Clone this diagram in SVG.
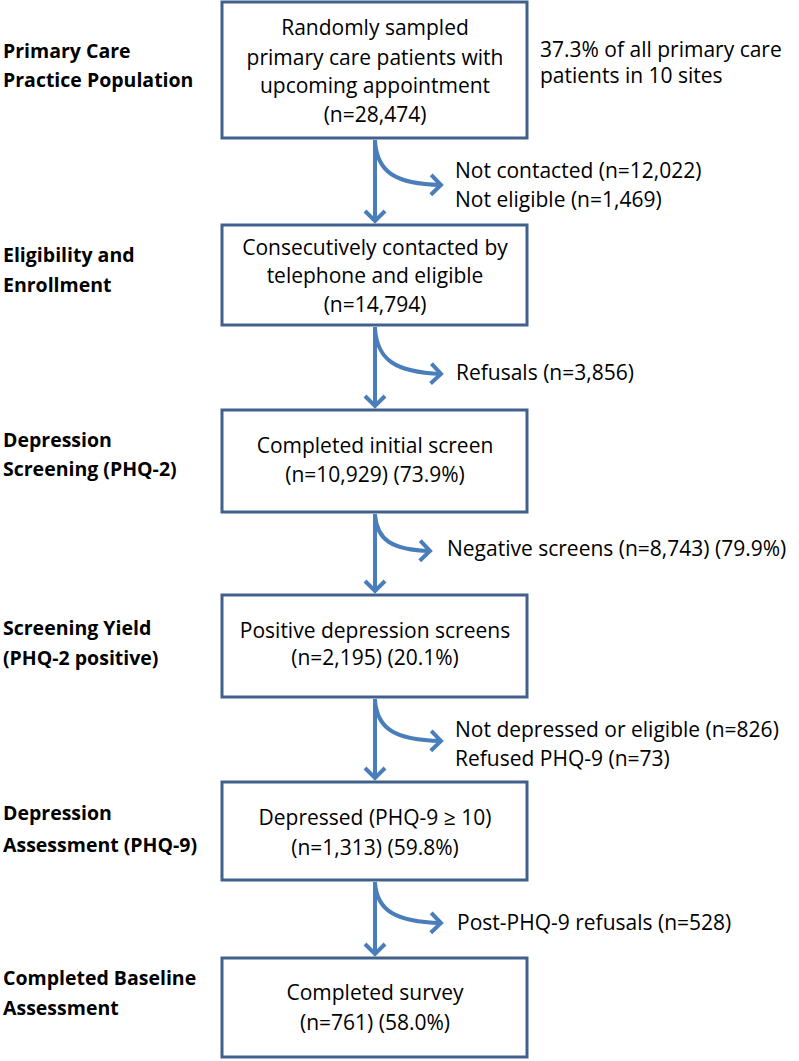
<svg xmlns="http://www.w3.org/2000/svg" width="799" height="1061" viewBox="0 0 799 1061">
<style>
.box{fill:#ffffff;stroke:#41618c;stroke-width:3}
.t{font-family:"Open Sans","Liberation Sans",sans-serif;font-size:21px;fill:#000}
.c{text-anchor:middle}
.lbl{font-family:"Open Sans","Liberation Sans",sans-serif;font-size:19.5px;font-weight:bold;fill:#000}
.arr{fill:none;stroke:#4a7ebb;stroke-width:4}
</style>
<defs>
<marker id="ah" markerUnits="userSpaceOnUse" markerWidth="26" markerHeight="26" viewBox="0 0 26 26" refX="13" refY="13" orient="auto">
<path d="M3,3 L13,13 L3,23" fill="none" stroke="#4a7ebb" stroke-width="4"/>
</marker>
</defs>
<rect width="799" height="1061" fill="#ffffff"/>
<g id="labels">
<text class="lbl" x="3" y="58">Primary Care</text>
<text class="lbl" x="3" y="87">Practice Population</text>
<text class="lbl" x="3" y="262">Eligibility and</text>
<text class="lbl" x="3" y="292">Enrollment</text>
<text class="lbl" x="3" y="447">Depression</text>
<text class="lbl" x="3" y="476">Screening (PHQ-2)</text>
<text class="lbl" x="3" y="635">Screening Yield</text>
<text class="lbl" x="3" y="665">(PHQ-2 positive)</text>
<text class="lbl" x="3" y="820">Depression</text>
<text class="lbl" x="3" y="852">Assessment (PHQ-9)</text>
<text class="lbl" x="3" y="985">Completed Baseline</text>
<text class="lbl" x="3" y="1015">Assessment</text>
</g>
<g id="node1">
<rect class="box" x="222" y="2" width="305" height="136"/>
<text class="t c" x="375" y="35">Randomly sampled</text>
<text class="t c" x="375" y="65">primary care patients with</text>
<text class="t c" x="375" y="93">upcoming appointment</text>
<text class="t c" x="375" y="122">(n=28,474)</text>
</g>
<g id="note1">
<text class="t" x="540" y="57">37.3% of all primary care</text>
<text class="t" x="540" y="83">patients in 10 sites</text>
</g>
<g id="node2">
<rect class="box" x="222" y="225" width="305" height="100"/>
<text class="t c" x="375" y="255">Consecutively contacted by</text>
<text class="t c" x="375" y="283">telephone and eligible</text>
<text class="t c" x="375" y="312">(n=14,794)</text>
</g>
<g id="node3">
<rect class="box" x="222" y="410" width="305" height="102"/>
<text class="t c" x="375" y="453">Completed initial screen</text>
<text class="t c" x="375" y="482">(n=10,929) (73.9%)</text>
</g>
<g id="node4">
<rect class="box" x="222" y="595" width="305" height="102"/>
<text class="t c" x="375" y="638">Positive depression screens</text>
<text class="t c" x="375" y="665">(n=2,195) (20.1%)</text>
</g>
<g id="node5">
<rect class="box" x="222" y="782" width="305" height="98"/>
<text class="t c" x="375" y="825">Depressed (PHQ-9 ≥ 10)</text>
<text class="t c" x="375" y="855">(n=1,313) (59.8%)</text>
</g>
<g id="node6">
<rect class="box" x="222" y="958" width="305" height="99"/>
<text class="t c" x="375" y="1000">Completed survey</text>
<text class="t c" x="375" y="1030">(n=761) (58.0%)</text>
</g>
<g id="connectors">
<line class="arr" x1="375" y1="140" x2="375" y2="221" marker-end="url(#ah)"/>
<path class="arr" d="M375,141 C377,172 395,184 441,185" marker-end="url(#ah)"/>
<line class="arr" x1="375" y1="327" x2="375" y2="406" marker-end="url(#ah)"/>
<path class="arr" d="M375,328 C377,360 395,372 441,374" marker-end="url(#ah)"/>
<line class="arr" x1="375" y1="514" x2="375" y2="591" marker-end="url(#ah)"/>
<path class="arr" d="M375,515 C377,540 392,550 430,551" marker-end="url(#ah)"/>
<line class="arr" x1="375" y1="699" x2="375" y2="778" marker-end="url(#ah)"/>
<path class="arr" d="M375,700 C377,729 395,740 441,741" marker-end="url(#ah)"/>
<line class="arr" x1="375" y1="882" x2="375" y2="954" marker-end="url(#ah)"/>
<path class="arr" d="M375,883 C377,910 395,922 441,923" marker-end="url(#ah)"/>
</g>
<g id="side-labels">
<text class="t" x="455" y="178">Not contacted (n=12,022)</text>
<text class="t" x="455" y="207">Not eligible (n=1,469)</text>
<text class="t" x="456" y="380">Refusals (n=3,856)</text>
<text class="t" x="447" y="556">Negative screens (n=8,743) (79.9%)</text>
<text class="t" x="455" y="737">Not depressed or eligible (n=826)</text>
<text class="t" x="455" y="766">Refused PHQ-9 (n=73)</text>
<text class="t" x="457" y="930">Post-PHQ-9 refusals (n=528)</text>
</g>
</svg>
